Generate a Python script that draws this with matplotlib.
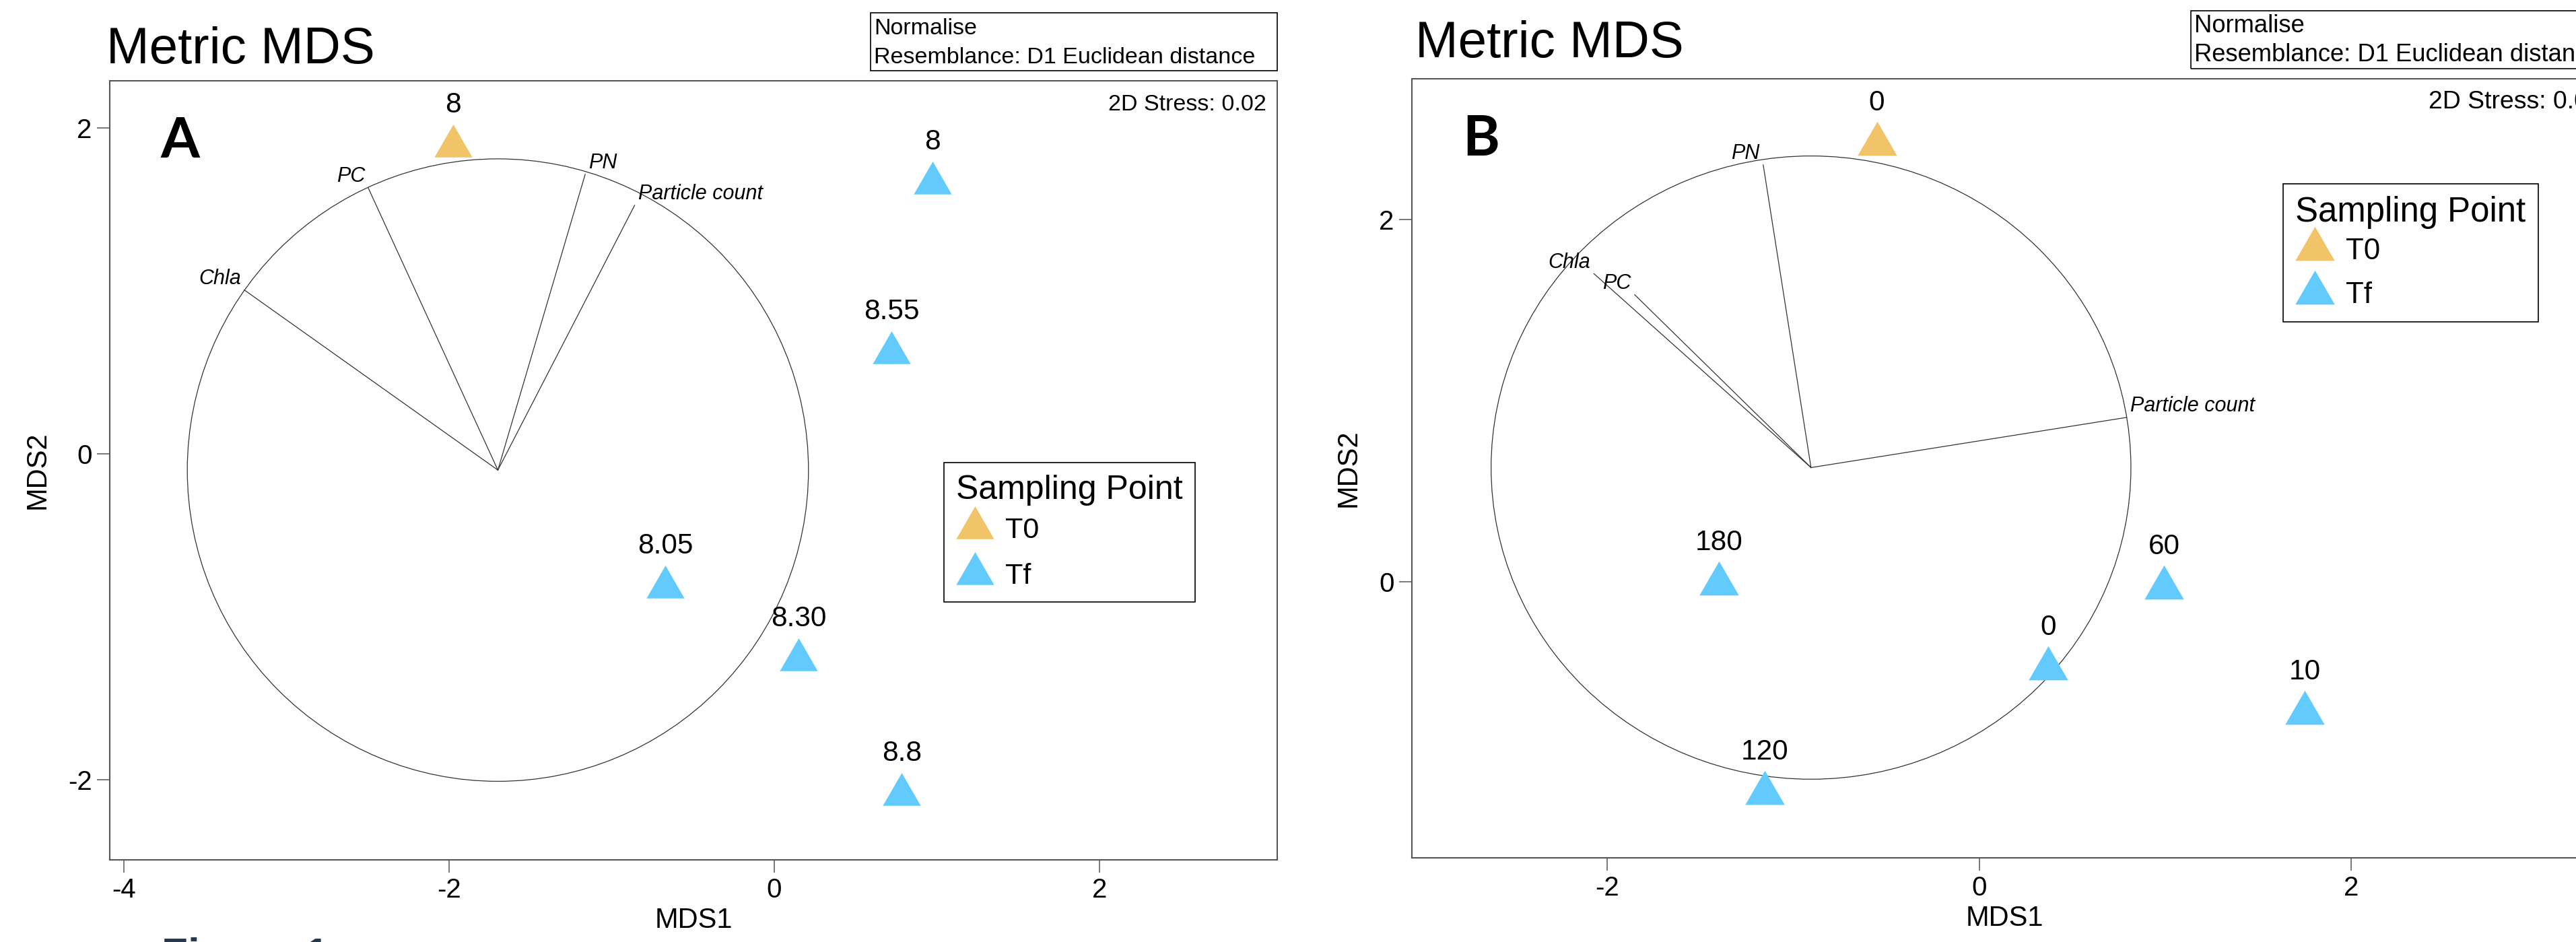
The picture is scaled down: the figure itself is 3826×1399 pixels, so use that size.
import matplotlib
matplotlib.use("Agg")
import matplotlib.pyplot as plt
from matplotlib.lines import Line2D
from matplotlib.patches import Circle, Rectangle

plt.rcParams["font.family"] = ["Liberation Sans", "DejaVu Sans"]

W, H = 3826, 1399

# Panel A data (MDS coordinates)
a_labels = ["8", "8", "8.55", "8.05", "8.30", "8.8"]
a_group = ["T0", "Tf", "Tf", "Tf", "Tf", "Tf"]
a_x = [-1.975, 0.974, 0.722, -0.671, 0.149, 0.783]
a_y = [1.888, 1.659, 0.620, -0.818, -1.264, -2.091]
a_vec_names = ["Chla", "PC", "PN", "Particle count"]
a_vec_x = [-3.259, -2.497, -1.163, -0.859]
a_vec_y = [1.005, 1.631, 1.715, 1.525]
a_center = (-1.70, -0.10)
a_radius = 1.91

# Panel B data
b_labels = ["0", "180", "120", "0", "60", "10"]
b_group = ["T0", "Tf", "Tf", "Tf", "Tf", "Tf"]
b_x = [-0.551, -1.401, -1.154, 0.370, 0.994, 1.750]
b_y = [2.416, -0.013, -1.167, -0.480, -0.034, -0.727]
b_vec_names = ["Chla", "PC", "PN", "Particle count"]
b_vec_x = [-2.072, -1.853, -1.162, 0.793]
b_vec_y = [1.699, 1.583, 2.300, 0.906]
b_center = (-0.905, 0.629)
b_radius = 1.72

groups = ["T0", "Tf"]
colors = {"T0": "#F2C46A", "Tf": "#62CAFD"}
TRI = [(0, 1), (-0.866, -0.5), (0.866, -0.5)]


def fx(px):
    return px / W


def fy(py):
    return 1 - py / H


fig = plt.figure(figsize=(W / 100, H / 100), dpi=100)


def draw_panel(box, xlim, ylim, xticks, yticks, letter, labels, grp, xs, ys,
               vnames, vx, vy, center, radius, ms, leg_xy, info_xy, title_xy,
               k=1.0, k_info=1.0, k_stress=1.0, spacing=0.66, sep=12):
    l, t, r, b = box
    ax = fig.add_axes([fx(l), fy(b), (r - l) / W, (b - t) / H])
    ax.set_xlim(xlim)
    ax.set_ylim(ylim)
    ax.set_xticks(xticks)
    ax.set_yticks(yticks)
    ax.set_xticklabels([str(v) for v in xticks])
    ax.set_yticklabels([str(v) for v in yticks])
    ax.tick_params(length=14, width=1.1, color="#555555", labelsize=29, pad=5)
    for sp in ax.spines.values():
        sp.set_color("#555555")
        sp.set_linewidth(1.5)
    ax.set_xlabel("MDS1", fontsize=30, labelpad=4)
    ax.set_ylabel("MDS2", fontsize=30, labelpad=18)

    # vector circle and loadings
    ax.add_patch(Circle(center, radius, fill=False, ec="#333333", lw=0.9))
    for name, ex, ey in zip(vnames, vx, vy):
        ax.plot([center[0], ex], [center[1], ey], color="#333333", lw=0.9)
        dx = ex - center[0]
        ax.annotate(name, (ex, ey), xytext=(-5 if dx < 0 else 5, 9),
                    textcoords="offset pixels", ha="right" if dx < 0 else "left",
                    va="baseline", fontsize=22, style="italic")

    # samples
    for g in groups:
        px = [x for x, gg in zip(xs, grp) if gg == g]
        py = [y for y, gg in zip(ys, grp) if gg == g]
        ax.plot(px, py, ls="none", marker=TRI, ms=ms, mfc=colors[g], mec="none",
                zorder=3)
    for lab, x, y in zip(labels, xs, ys):
        ax.annotate(lab, (x, y), xytext=(0, 50), textcoords="offset pixels",
                    ha="center", va="baseline", fontsize=30.5)

    ax.annotate(letter, (0, 1), xycoords="axes fraction", xytext=(75, -114),
                textcoords="offset pixels", ha="left", va="baseline",
                fontsize=60, fontweight="bold", family=["Lato", "DejaVu Sans"])
    ax.annotate("2D Stress: 0.02", (1, 1), xycoords="axes fraction",
                xytext=(-251, -44), textcoords="offset pixels", ha="left",
                va="baseline", fontsize=24.5 * k_stress)

    handles = [Line2D([], [], ls="none", marker=TRI, ms=ms, mfc=colors[g],
                      mec="none", label=g) for g in groups]
    leg = ax.legend(handles=handles, loc="upper left",
                    bbox_to_anchor=(fx(leg_xy[0]), fy(leg_xy[1])),
                    bbox_transform=fig.transFigure, borderaxespad=0,
                    fancybox=False, framealpha=1, edgecolor="black",
                    title="Sampling Point", title_fontsize=36 * k,
                    fontsize=31 * k, handlelength=1.3, handletextpad=0.4,
                    labelspacing=spacing, borderpad=0.42)
    leg._legend_box.align = "left"
    leg._legend_box.sep = sep
    leg.get_frame().set_linewidth(1.2)

    # header: title and info box
    fig.text(fx(title_xy[0]), fy(title_xy[1]), "Metric MDS", fontsize=55,
             va="baseline", ha="left")
    ix, iy = info_xy
    fig.add_artist(Rectangle((fx(ix), fy(iy + 86)), 604 * k_info / W, 86 / H,
                             transform=fig.transFigure, fill=False,
                             ec="black", lw=1.2))
    fig.text(fx(ix + 5), fy(iy + 32), "Normalise", fontsize=24.5 * k_info,
             va="baseline")
    fig.text(fx(ix + 5), fy(iy + 75), "Resemblance: D1 Euclidean distance",
             fontsize=24.5 * k_info, va="baseline")
    return ax


draw_panel((163, 120, 1897, 1277), (-4.087, 3.093), (-2.492, 2.289),
           [-4, -2, 0, 2], [-2, 0, 2], "A", a_labels, a_group, a_x, a_y,
           a_vec_names, a_vec_x, a_vec_y, a_center, a_radius, 46.8,
           (1402, 687), (1293, 19), (158, 94))

draw_panel((2097, 117, 3858, 1274), (-3.051, 3.324), (-1.525, 2.775),
           [-2, 0, 2], [0, 2], "B", b_labels, b_group, b_x, b_y,
           b_vec_names, b_vec_x, b_vec_y, b_center, b_radius, 48.6,
           (3391, 273), (3254, 16), (2102, 85), k=1.02, k_info=1.07,
           k_stress=1.1, spacing=0.55, sep=9)

fig.text(fx(240), fy(1392), "Figure 1", fontsize=46, fontweight="bold",
         color="#26384d", va="top", ha="left")

fig.savefig("out.png", dpi=100)
